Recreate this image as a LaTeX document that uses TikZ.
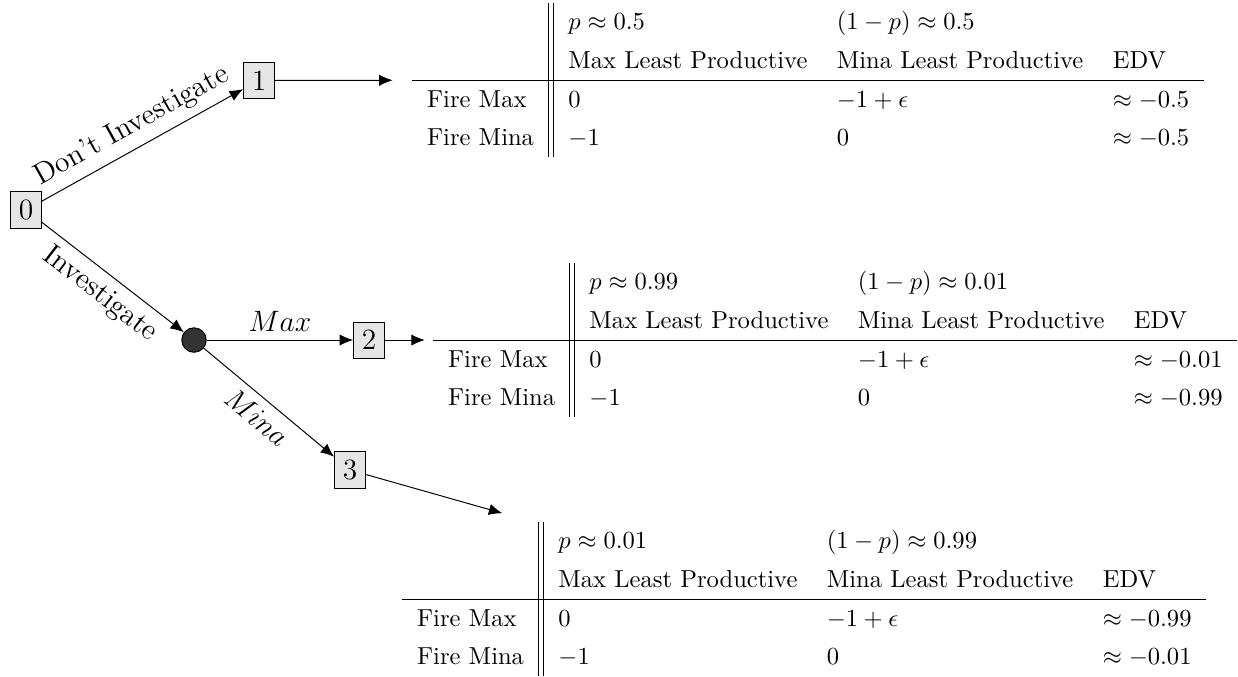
\documentclass[tikz,border=0pt]{standalone}
\usetikzlibrary{arrows.meta}
\renewcommand{\arraystretch}{1.3}
\begin{document}
\begin{tikzpicture}[
  box/.style={draw, fill=gray!20, inner sep=3.33pt, font=\large},
  chance/.style={circle, draw, fill=black!80, minimum size=0.35cm, inner sep=0pt},
  arr/.style={-{Latex[length=5.5pt,width=4.6pt]}},
  lbl/.style={font=\large},
  tbl/.style={anchor=west, inner sep=3.33pt},
]
\useasboundingbox (0,0) rectangle (17.716,-9.674);
\node[box] (n0) at (0.372,-3.005) {0};
\node[box] (n1) at (3.706,-1.15) {1};
\node[chance] (c) at (2.776,-4.866) {};
\node[box] (n2) at (5.281,-4.866) {2};
\node[box] (n3) at (5.009,-6.726) {3};

\node[tbl] (t1) at (5.778,-1.145) {\begin{tabular}{l||lll}
 & $p\approx 0.5$ & $(1-p)\approx 0.5$ & \\
 & Max Least Productive & Mina Least Productive & EDV \\ \hline
Fire Max & $0$ & $-1+\epsilon$ & $\approx -0.5$ \\
Fire Mina & $-1$ & $0$ & $\approx -0.5$
\end{tabular}};

\node[tbl] (t2) at (6.079,-4.866) {\begin{tabular}{l||lll}
 & $p\approx 0.99$ & $(1-p)\approx 0.01$ & \\
 & Max Least Productive & Mina Least Productive & EDV \\ \hline
Fire Max & $0$ & $-1+\epsilon$ & $\approx -0.01$ \\
Fire Mina & $-1$ & $0$ & $\approx -0.99$
\end{tabular}};

\node[tbl] (t3) at (5.635,-8.572) {\begin{tabular}{l||lll}
 & $p\approx 0.01$ & $(1-p)\approx 0.99$ & \\
 & Max Least Productive & Mina Least Productive & EDV \\ \hline
Fire Max & $0$ & $-1+\epsilon$ & $\approx -0.99$ \\
Fire Mina & $-1$ & $0$ & $\approx -0.01$
\end{tabular}};

\draw[arr] (n0) -- node[lbl, midway, above, sloped] {Don't Investigate} (n1);
\draw[arr] (n0) -- node[lbl, midway, below, sloped] {Investigate} (c);
\draw[arr] (c) -- node[lbl, midway, above] {$Max$} (n2);
\draw[arr] (c) -- node[lbl, midway, below, sloped] {$Mina$} (n3);
\draw[arr, shorten >=4.5pt] (n1) -- (t1);
\draw[arr] (n2) -- (t2);
\draw[arr] (n3) -- (t3);
\end{tikzpicture}
\end{document}
